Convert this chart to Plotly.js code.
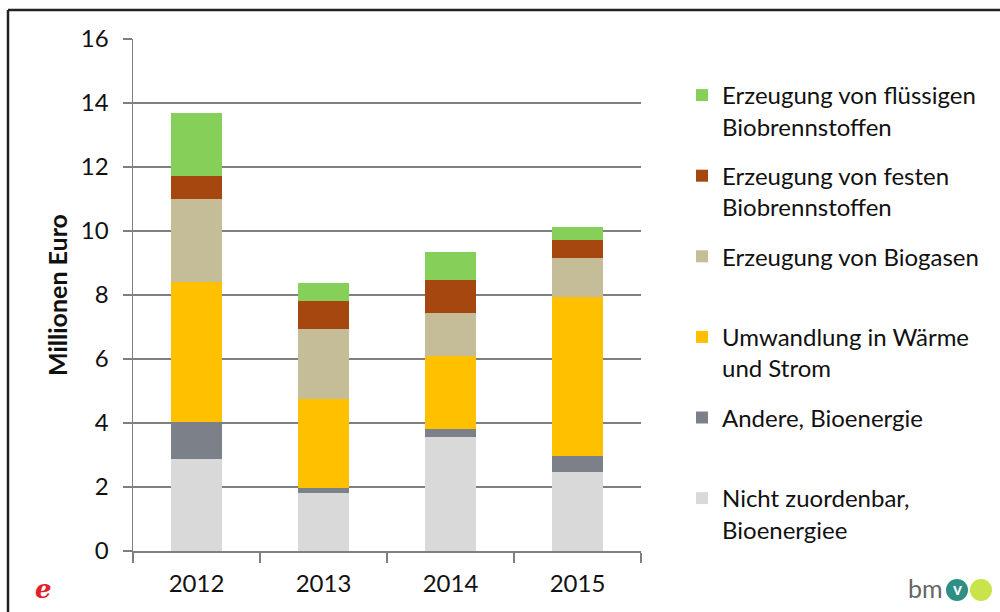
<!DOCTYPE html>
<html>
<head>
<meta charset="utf-8">
<script src="https://cdn.plot.ly/plotly-3.0.1.min.js"></script>
<style>html,body{margin:0;padding:0;background:#fff;}#chart{width:1000px;height:612px;}</style>
</head>
<body>
<div id="chart"></div>
<script>
// Data (Millionen Euro)
const years = ['2012', '2013', '2014', '2015'];
const nichtZuordenbar = [2.87, 1.80, 3.57, 2.48];
const andereBioenergie = [1.17, 0.16, 0.23, 0.50];
const umwandlung = [4.38, 2.79, 2.30, 4.97];
const biogase = [2.58, 2.18, 1.35, 1.22];
const festeBiobrennstoffe = [0.72, 0.88, 1.02, 0.55];
const fluessigeBiobrennstoffe = [1.98, 0.56, 0.88, 0.41];
const yTicks = [0, 2, 4, 6, 8, 10, 12, 14, 16];

const seriesNames = [
  'Nicht zuordenbar,<br>Bioenergiee',
  'Andere, Bioenergie<br>&nbsp;',
  'Umwandlung in Wärme<br>und Strom',
  'Erzeugung von Biogasen<br>&nbsp;',
  'Erzeugung von festen<br>Biobrennstoffen',
  'Erzeugung von flüssigen<br>Biobrennstoffen'
];
const seriesValues = [nichtZuordenbar, andereBioenergie, umwandlung, biogase, festeBiobrennstoffe, fluessigeBiobrennstoffe];
const seriesColors = ['#d9d9d9', '#7c8088', '#ffc000', '#c4bd97', '#a5470f', '#86d05a'];

const traces = seriesValues.map((vals, i) => ({
  type: 'bar',
  x: years,
  y: vals,
  name: seriesNames[i],
  legendgroup: 'g' + i,
  legendrank: 100 - i,
  marker: {color: seriesColors[i], line: {width: 0}},
  hoverinfo: 'x+y+name'
}));

const font = 'Lato, "Open Sans", sans-serif';
const px2x = p => (p - 133) / 508;
const px2y = p => (551 - p) / 512;

const layout = {
  width: 1000,
  height: 612,
  margin: {l: 133, r: 359, t: 39, b: 61},
  paper_bgcolor: '#ffffff',
  plot_bgcolor: '#ffffff',
  barmode: 'stack',
  bargap: 0.6,
  font: {family: font, size: 22, color: '#111'},
  xaxis: {
    type: 'category',
    showline: true,
    linecolor: '#7f7f7f',
    linewidth: 1.5,
    ticks: 'outside',
    tickson: 'boundaries',
    ticklen: 10,
    tickcolor: '#7f7f7f',
    tickwidth: 1.5,
    ticklabelstandoff: 11,
    tickfont: {family: font, size: 24, color: '#111'},
    showgrid: false,
    zeroline: false
  },
  yaxis: {
    range: [0, 16],
    tickvals: yTicks,
    ticktext: yTicks.map(String),
    showline: true,
    linecolor: '#7f7f7f',
    linewidth: 1.5,
    ticks: 'outside',
    ticklen: 9,
    tickcolor: '#7f7f7f',
    tickwidth: 1.5,
    ticklabelstandoff: 9,
    tickfont: {family: font, size: 24, color: '#111'},
    showgrid: true,
    gridcolor: '#7f7f7f',
    gridwidth: 1.3,
    zeroline: false,
    title: {text: '<b>Millionen Euro</b>', font: {family: font, size: 25, color: '#111'}, standoff: 6}
  },
  showlegend: true,
  legend: {
    x: px2x(682),
    y: px2y(73),
    xanchor: 'left',
    yanchor: 'top',
    traceorder: 'grouped',
    tracegroupgap: 15.2,
    valign: 'top',
    font: {family: font, size: 24, color: '#111'},
    bgcolor: 'rgba(0,0,0,0)'
  },
  shapes: [
    {type: 'line', xref: 'paper', yref: 'paper', x0: px2x(8), x1: px2x(1000), y0: px2y(10), y1: px2y(10), line: {color: '#222', width: 2.5}},
    {type: 'line', xref: 'paper', yref: 'paper', x0: px2x(8), x1: px2x(8), y0: px2y(10), y1: px2y(612), line: {color: '#222', width: 2.5}},
    {type: 'circle', layer: 'below', xref: 'paper', yref: 'paper', x0: px2x(946), x1: px2x(968), y0: px2y(601), y1: px2y(579), fillcolor: '#2f8f86', line: {width: 0}},
    {type: 'circle', layer: 'below', xref: 'paper', yref: 'paper', x0: px2x(970), x1: px2x(992), y0: px2y(601), y1: px2y(579), fillcolor: '#c9e34a', line: {width: 0}}
  ],
  annotations: [
    {xref: 'paper', yref: 'paper', x: px2x(43), y: px2y(589), xanchor: 'center', yanchor: 'middle', text: '<b><i>e</i></b>', showarrow: false, font: {family: '"DejaVu Serif", serif', size: 26, color: '#e0202a'}},
    {xref: 'paper', yref: 'paper', x: px2x(925), y: px2y(588), xanchor: 'center', yanchor: 'middle', text: 'bm', showarrow: false, font: {family: font, size: 25, color: '#666'}},
    {xref: 'paper', yref: 'paper', x: px2x(957), y: px2y(588), xanchor: 'center', yanchor: 'middle', text: '<b>v</b>', showarrow: false, font: {family: font, size: 17, color: '#ffffff'}}
  ]
};

Plotly.newPlot('chart', traces, layout, {displayModeBar: false, staticPlot: true});
</script>
</body>
</html>
